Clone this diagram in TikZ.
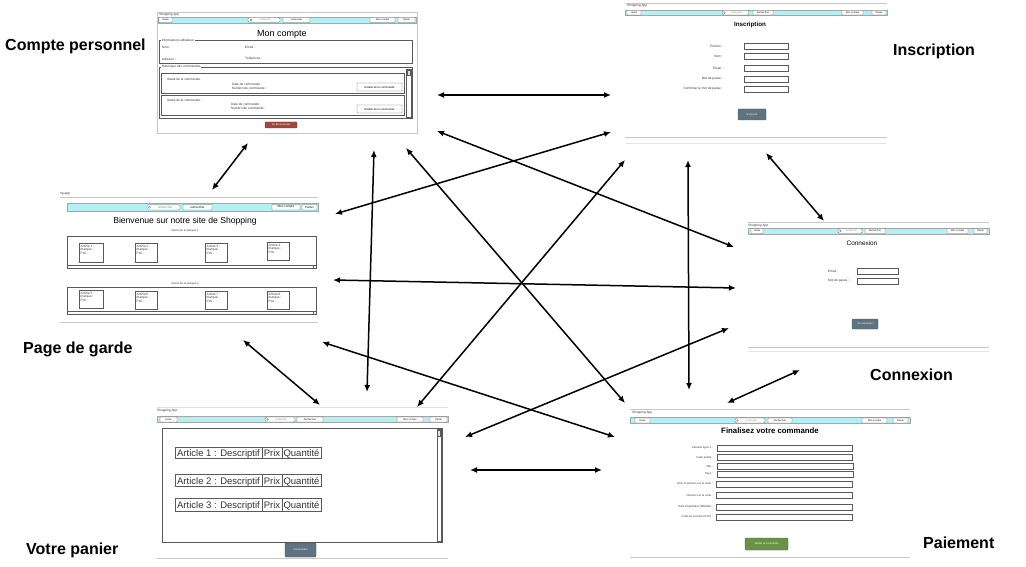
\documentclass[tikz,border=0pt]{standalone}
\usepackage{fontspec}
\setmainfont{Liberation Sans}
\usetikzlibrary{arrows.meta}
\definecolor{navcyan}{HTML}{B4F0F3}
\definecolor{slate}{HTML}{5F7381}
\definecolor{logoutred}{HTML}{A3473C}
\definecolor{okgreen}{HTML}{6B9149}
\newcommand\wfbox[7]{\node[#1, minimum width={(#5)-(#3)}, minimum height={(#6)-(#4)}] (#2) at ({((#3)+(#5))/2},{((#4)+(#6))/2}) {#7};}
\begin{document}
\begin{tikzpicture}[x=1pt,y=-1pt]
\tikzset{link/.style = {<->, >={Latex[length=7pt,width=6pt]}, line width=1.5pt}}
\tikzset{pagename/.style = {font=\fontsize{16}{19}\selectfont\bfseries, anchor=west, inner sep=0pt}}
\tikzset{frame/.style = {draw=gray!45, line width=0.6pt}}
\tikzset{navbar/.style = {draw=gray!70, fill=navcyan, line width=0.5pt}}
\tikzset{navbtn/.style = {draw=gray!75!black, fill=white, line width=0.35pt, rounded corners=0.3pt, inner sep=0pt, font=\fontsize{2.4}{3}\selectfont}}
\tikzset{searchbox/.style = {navbtn, rounded corners=1.5pt, text=gray}}
\tikzset{darkbtn/.style = {fill=slate, draw=slate!70!black, rounded corners=0.8pt, text=white, inner sep=0pt, font=\fontsize{2.6}{3}\selectfont}}
\tikzset{group/.style = {draw=gray!70!black, line width=0.4pt}}
\tikzset{field/.style = {draw=gray!70!black, fill=white, line width=0.4pt}}
\tikzset{small/.style = {font=\fontsize{3.2}{3.8}\selectfont, text=black!80, inner sep=0pt, anchor=west}}
\tikzset{grouplabel/.style = {small, fill=white, inner sep=0.6pt}}
\tikzset{heading/.style = {font=\fontsize{9}{11}\selectfont, inner sep=0pt}}
\useasboundingbox (0,0) rectangle (1026,567);

% Compte personnel
\draw[frame] (157,12) rectangle (417,133);
\node[small] (mc-app) at (159,14.5) {Shopping app};
\draw[navbar] (158,17) rectangle (416,23);
\wfbox{navbtn}{mc-home}{159}{17.5}{172}{22.5}{Home}
\wfbox{searchbox}{mc-search}{248}{17.5}{280}{22.5}{\quad rechercher}
\draw[gray] (251,20) circle (1);
\wfbox{navbtn}{mc-rech}{283}{17.5}{310}{22.5}{rechercher}
\wfbox{navbtn}{mc-cpt}{370}{17.5}{395}{22.5}{Mon compte}
\wfbox{navbtn}{mc-pan}{398}{17.5}{415}{22.5}{Panier}
\node[heading] (mc-title) at (282,34) {Mon compte};
\draw[group] (159,40) rectangle (412,63);
\node[grouplabel] (mc-info) at (161,40) {Informations utilisateur};
\node[small] (mc-nom) at (162,47) {Nom :};
\node[small] (mc-email) at (245,47) {Email :};
\node[small] (mc-adr) at (162,59) {Adresse :};
\node[small] (mc-tel) at (245,59) {Téléphone :};
\draw[group] (159,67) rectangle (412,118);
\node[grouplabel] (mc-hist) at (161,67) {Historique des commandes};
\draw[group] (406.5,69) rectangle (411,117);
\draw[group, fill=gray!25] (407,70) rectangle (410.5,75);
\draw[group] (161,73) rectangle (404,93);
\node[small] (mc-st1) at (167,79.5) {Statut de la commande :};
\node[small] (mc-dt1) at (232,84) {Date de commande :};
\node[small] (mc-nu1) at (232,88) {Numéro de commande :};
\wfbox{navbtn, font=\fontsize{2.8}{3.2}\selectfont}{mc-det1}{357}{83}{402}{91}{Détails de la commande}
\draw[group] (161,95) rectangle (404,115);
\node[small] (mc-st2) at (167,100.5) {Statut de la commande :};
\node[small] (mc-dt2) at (231,104) {Date de commande :};
\node[small] (mc-nu2) at (231,108) {Numéro de commande :};
\wfbox{navbtn, font=\fontsize{2.8}{3.2}\selectfont}{mc-det2}{357}{105}{402}{113}{Détails de la commande}
\wfbox{darkbtn, fill=logoutred, draw=logoutred!70!black}{mc-out}{265}{122}{297}{128}{Se déconnecter}

% Inscription
\draw[frame] (625,3) -- (887,3);
\node[small] (in-app) at (627,6) {Shopping App};
\draw[navbar] (625,10) rectangle (887,15.5);
\wfbox{navbtn}{in-home}{627}{10.5}{641}{15}{Home}
\wfbox{searchbox}{in-search}{722}{10.5}{749}{15}{\quad rechercher}
\draw[gray] (724.5,12.75) circle (0.9);
\wfbox{navbtn}{in-rech}{753}{10.5}{773}{15}{Rechercher}
\wfbox{navbtn}{in-cpt}{842}{10.5}{863}{15}{Mon compte}
\wfbox{navbtn}{in-pan}{872}{10.5}{886}{15}{Panier}
\node[heading, font=\fontsize{6.2}{7}\selectfont\bfseries] (in-title) at (750,25) {Inscription};
\node[small, anchor=east] (in-pre) at (723,46) {Prénom :};
\node[small, anchor=east] (in-nom) at (723,56) {Nom :};
\node[small, anchor=east] (in-mail) at (723,68.5) {Email :};
\node[small, anchor=east] (in-mdp) at (723,79) {Mot de passe :};
\node[small, anchor=east] (in-conf) at (723,89) {Confirmer le mot de passe :};
\draw[field] (744,43) rectangle (788,49);
\draw[field] (744,53) rectangle (788,59);
\draw[field] (744,65.5) rectangle (788,71.5);
\draw[field] (744,76) rectangle (788,82);
\draw[field] (744,86) rectangle (788,92);
\wfbox{darkbtn}{in-btn}{738}{109}{766}{120}{S'inscrire}
\draw[frame] (625,137) -- (887,137);
\draw[frame, draw=gray!20] (625,143) -- (887,143);

% Page de garde
\node[small] (pg-app) at (60,193.5) {ng app};
\draw[frame] (60,197) -- (318,197);
\draw[navbar] (67,203) rectangle (318,211);
\wfbox{searchbox, font=\fontsize{3}{3.5}\selectfont}{pg-search}{147}{204.5}{180}{210}{\quad rechercher}
\draw[gray] (149.5,207.25) circle (1.1);
\wfbox{navbtn, font=\fontsize{3}{3.5}\selectfont}{pg-rech}{183}{204.5}{212}{210}{rechercher}
\wfbox{navbtn, font=\fontsize{3}{3.5}\selectfont}{pg-cpt}{272}{204.5}{300}{210}{Mon compte}
\wfbox{navbtn, font=\fontsize{3}{3.5}\selectfont}{pg-pan}{302}{204.5}{317}{210}{Panier}
\node[heading, font=\fontsize{8.6}{10}\selectfont] (pg-title) at (185,221) {Bienvenue sur notre site de Shopping};
\node[small, anchor=center, font=\fontsize{2.8}{3.2}\selectfont] (pg-m1) at (185,231) {Article de la marque 1};
\draw[group] (67,236) rectangle (316,268);
\draw[group] (67,265.5) -- (316,265.5);
\draw[group] (313,265.5) rectangle (316,268.5);
\draw[field] (79,243) rectangle (103,262);
\node[small, anchor=north west, align=left] (pg-a1) at (80.5,244.5) {Article 1 :\\marque :\\Prix :};
\draw[field] (135,243) rectangle (157,262);
\node[small, anchor=north west, align=left] (pg-a2) at (136.5,244.5) {Article 2 :\\marque :\\Prix :};
\draw[field] (205,243) rectangle (227,262);
\node[small, anchor=north west, align=left] (pg-a3) at (206.5,244.5) {Article 3 :\\marque :\\Prix :};
\draw[field] (267,242) rectangle (289,260);
\node[small, anchor=north west, align=left] (pg-a4) at (268.5,243.5) {Article 4 :\\marque :\\Prix :};
\node[small, anchor=center, font=\fontsize{2.8}{3.2}\selectfont] (pg-m2) at (185,284) {Article de la marque 2};
\draw[group] (67,287) rectangle (316,314);
\draw[group] (67,311.5) -- (316,311.5);
\draw[group] (313,311.5) rectangle (316,314.5);
\draw[field] (79,290) rectangle (103,308);
\node[small, anchor=north west, align=left] (pg-a5) at (80.5,291.5) {Article 5 :\\marque :\\Prix :};
\draw[field] (135,291) rectangle (157,309);
\node[small, anchor=north west, align=left] (pg-a6) at (136.5,292.5) {Article 6 :\\marque :\\Prix :};
\draw[field] (205,291) rectangle (227,309);
\node[small, anchor=north west, align=left] (pg-a7) at (206.5,292.5) {Article 7 :\\marque :\\Prix :};
\draw[field] (267,291) rectangle (289,309);
\node[small, anchor=north west, align=left] (pg-a8) at (268.5,292.5) {Article 8 :\\marque :\\Prix :};
\draw[frame] (60,322) -- (318,322);

% Connexion
\draw[frame] (748,222.5) -- (989,222.5);
\node[small] (cx-app) at (748,225.5) {Shopping App};
\draw[navbar] (748,228) rectangle (989,234);
\wfbox{navbtn}{cx-home}{751}{228.5}{763}{233.5}{Home}
\wfbox{searchbox}{cx-search}{838}{228.5}{862}{233.5}{\quad rechercher}
\draw[gray] (840.5,231) circle (0.9);
\wfbox{navbtn}{cx-rech}{865}{228.5}{885}{233.5}{Rechercher}
\wfbox{navbtn}{cx-cpt}{947}{228.5}{968}{233.5}{Mon compte}
\wfbox{navbtn}{cx-pan}{974}{228.5}{987}{233.5}{Panier}
\node[heading, font=\fontsize{6.4}{7.5}\selectfont] (cx-title) at (862,243) {Connexion};
\node[small] (cx-mail) at (828,271) {Email :};
\draw[field] (857,268) rectangle (898,274);
\node[small] (cx-mdp) at (828,281) {Mot de passe :};
\draw[field] (857,278) rectangle (898,284);
\wfbox{darkbtn}{cx-btn}{852}{319}{878}{329}{Se connecter}
\draw[frame] (748,347) -- (989,347);
\draw[frame, draw=gray!20] (748,351) -- (989,351);

% Votre panier
\draw[frame, draw=gray!25] (157,407.5) -- (448,407.5);
\node[small] (vp-app) at (157,410.5) {Shopping App};
\draw[navbar] (157,416.5) rectangle (448,422.5);
\wfbox{navbtn}{vp-home}{160}{417}{177}{422}{Home}
\wfbox{searchbox}{vp-search}{265}{417}{295}{422}{\quad rechercher}
\draw[gray] (267.5,419.5) circle (0.9);
\wfbox{navbtn}{vp-rech}{297}{417}{323}{422}{Rechercher}
\wfbox{navbtn}{vp-cpt}{397}{417}{423}{422}{Mon compte}
\wfbox{navbtn}{vp-pan}{430}{417}{447}{422}{Panier}
\draw[group, line width=0.6pt] (162,428) rectangle (442,542);
\draw[group] (437,429) rectangle (441,541);
\draw[group, fill=gray!25] (437.5,430) rectangle (440.5,436);
\tikzset{cell/.style = {draw=gray!70!black, line width=0.5pt, inner sep=0pt, text height=8.6pt, text depth=0.6pt, font=\fontsize{9.5}{10}\selectfont, text=black!80}}
\wfbox{cell}{vp-art1}{175}{447}{262}{458}{Article 1 : Descriptif}
\wfbox{cell}{vp-prix1}{262}{447}{282}{458}{Prix}
\wfbox{cell}{vp-qte1}{282}{447}{321}{458}{Quantité}
\wfbox{cell}{vp-art2}{175}{474}{262}{486}{Article 2 : Descriptif}
\wfbox{cell}{vp-prix2}{262}{474}{282}{486}{Prix}
\wfbox{cell}{vp-qte2}{282}{474}{321}{486}{Quantité}
\wfbox{cell}{vp-art3}{175}{498}{262}{511}{Article 3 : Descriptif}
\wfbox{cell}{vp-prix3}{262}{498}{282}{511}{Prix}
\wfbox{cell}{vp-qte3}{282}{498}{321}{511}{Quantité}
\wfbox{darkbtn}{vp-btn}{285}{543}{316}{557}{Commander}
\draw[frame] (157,558) -- (448,558);

% Paiement
\draw[frame] (630,409) -- (910,409);
\node[small] (pa-app) at (632,412.5) {Shopping App};
\draw[navbar] (630,417.5) rectangle (910,423.5);
\wfbox{navbtn}{pa-home}{635}{418}{650}{423}{Home}
\wfbox{searchbox}{pa-search}{735}{418}{765}{423}{\quad rechercher}
\draw[gray] (737.5,420.5) circle (0.9);
\wfbox{navbtn}{pa-rech}{768}{418}{792}{423}{Rechercher}
\wfbox{navbtn}{pa-cpt}{862}{418}{887}{423}{Mon compte}
\wfbox{navbtn}{pa-pan}{893}{418}{908}{423}{Panier}
\node[heading, font=\fontsize{7.8}{9}\selectfont\bfseries] (pa-title) at (770,430.5) {Finalisez votre commande};
\node[small, anchor=east, font=\fontsize{2.8}{3.2}\selectfont] (pa-adr) at (713,448) {Adresse ligne 1 :};
\node[small, anchor=east, font=\fontsize{2.8}{3.2}\selectfont] (pa-cp) at (713,457.5) {Code postal :};
\node[small, anchor=east, font=\fontsize{2.8}{3.2}\selectfont] (pa-ville) at (713,466) {Ville :};
\node[small, anchor=east, font=\fontsize{2.8}{3.2}\selectfont] (pa-pays) at (713,474) {Pays :};
\node[small, anchor=east, font=\fontsize{2.8}{3.2}\selectfont] (pa-nomc) at (713,484) {Nom et prénom sur la carte :};
\node[small, anchor=east, font=\fontsize{2.8}{3.2}\selectfont] (pa-num) at (713,495) {Numéro sur la carte :};
\node[small, anchor=east, font=\fontsize{2.8}{3.2}\selectfont] (pa-exp) at (713,507) {Date d'expiration (MM/AA) :};
\node[small, anchor=east, font=\fontsize{2.8}{3.2}\selectfont] (pa-cvc) at (713,517) {Code de sécurité (CVC) :};
\draw[field] (717,445) rectangle (852,451);
\draw[field] (717,454.5) rectangle (852,460.5);
\draw[field] (717,463) rectangle (853,469);
\draw[field] (717,471) rectangle (853,477);
\draw[field] (716,481) rectangle (852,487);
\draw[field] (716,492) rectangle (852,498);
\draw[field] (716,504) rectangle (852,510);
\draw[field] (716,514) rectangle (852,520);
\wfbox{darkbtn, fill=okgreen, draw=okgreen!70!black}{pa-btn}{745}{538}{788}{550}{Valider la commande}
\draw[frame] (630,557) -- (910,557);

% page names
\node[pagename] (lbl-compte) at (5,46) {Compte personnel};
\node[pagename] (lbl-insc) at (893,51) {Inscription};
\node[pagename] (lbl-garde) at (23,349) {Page de garde};
\node[pagename] (lbl-conn) at (870,375) {Connexion};
\node[pagename] (lbl-panier) at (26,550) {Votre panier};
\node[pagename] (lbl-paie) at (923,543) {Paiement};

% arrow ends
\coordinate (compte-insc) at (437,95);
\coordinate (insc-compte) at (611,95);
\coordinate (compte-garde) at (248,143);
\coordinate (garde-compte) at (212,190);
\coordinate (compte-panier) at (374,150);
\coordinate (panier-compte) at (367,392);
\coordinate (compte-paie) at (406,148);
\coordinate (paie-compte) at (625,403);
\coordinate (compte-conn) at (437,131);
\coordinate (conn-compte) at (734,247);
\coordinate (garde-insc) at (335,214);
\coordinate (insc-garde) at (611,132);
\coordinate (garde-conn) at (333,280);
\coordinate (conn-garde) at (736,288);
\coordinate (garde-paie) at (322,342);
\coordinate (paie-garde) at (615,437);
\coordinate (garde-panier) at (243,340);
\coordinate (panier-garde) at (320,405);
\coordinate (panier-insc) at (417,407);
\coordinate (insc-panier) at (625,160);
\coordinate (panier-conn) at (465,437);
\coordinate (conn-panier) at (729,328);
\coordinate (panier-paie) at (470,470);
\coordinate (paie-panier) at (602,470);
\coordinate (insc-paie) at (688,160);
\coordinate (paie-insc) at (689,390);
\coordinate (insc-conn) at (766,153);
\coordinate (conn-insc) at (824,221);
\coordinate (conn-paie) at (800,370);
\coordinate (paie-conn) at (727,403);

\draw[link] (compte-insc) -- (insc-compte);
\draw[link] (compte-garde) -- (garde-compte);
\draw[link] (compte-panier) -- (panier-compte);
\draw[link] (compte-paie) -- (paie-compte);
\draw[link] (compte-conn) -- (conn-compte);
\draw[link] (garde-insc) -- (insc-garde);
\draw[link] (garde-conn) -- (conn-garde);
\draw[link] (garde-paie) -- (paie-garde);
\draw[link] (garde-panier) -- (panier-garde);
\draw[link] (panier-insc) -- (insc-panier);
\draw[link] (panier-conn) -- (conn-panier);
\draw[link] (panier-paie) -- (paie-panier);
\draw[link] (insc-paie) -- (paie-insc);
\draw[link] (insc-conn) -- (conn-insc);
\draw[link] (conn-paie) -- (paie-conn);
\end{tikzpicture}
\end{document}
